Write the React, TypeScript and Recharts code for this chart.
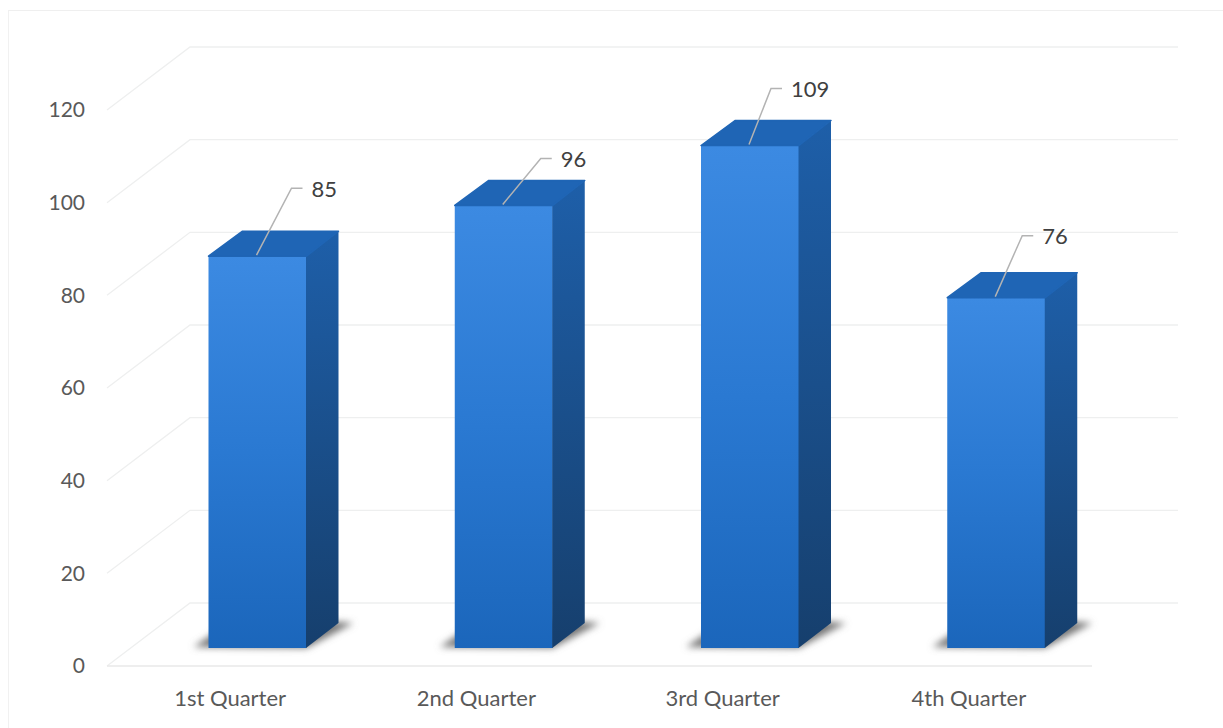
import React from "react";
import {
  Bar,
  BarChart,
  CartesianGrid,
  LabelList,
  XAxis,
  YAxis,
} from "recharts";

const quarters = ["1st Quarter", "2nd Quarter", "3rd Quarter", "4th Quarter"];
const sales = [85, 96, 109, 76];
const yTicks = [0, 20, 40, 60, 80, 100, 120];

const data = quarters.map((quarter, i) => ({ quarter, sales: sales[i] }));

// 3d look
const FONT = "Lato, 'Noto Sans', sans-serif";
const WALL_DX = 83;
const WALL_DY = -63;
const WALL_RIGHT = 1178;
const BAR_SHIFT_X = 27.5;
const BAR_SHIFT_Y = -18; // bars stand further back on the floor
const BAR_SCALE = 0.995;
const DEPTH_X = 32;
const DEPTH_Y = -25;

// leader line of each data label: rise and run from the bar top
const leaders = [
  { rise: 68, run: 35 },
  { rise: 47, run: 38 },
  { rise: 57, run: 22 },
  { rise: 62, run: 27 },
];

const GridLine = (props: any) => {
  const { x1, y1, x2 } = props;
  return (
    <g key={y1}>
      <polyline
        points={`${x1},${y1} ${x1 + WALL_DX},${y1 + WALL_DY} ${WALL_RIGHT},${y1 + WALL_DY}`}
        fill="none"
        stroke="#eeefef"
        strokeWidth={1.3}
      />
      {y1 > 600 && <line x1={x1} y1={y1} x2={x2} y2={y1} stroke="#e8e8e8" strokeWidth={1.5} />}
    </g>
  );
};

const Box = (props: any) => {
  const { x, y, width, height } = props;
  const left = x + BAR_SHIFT_X;
  const right = left + width;
  const base = y + height + BAR_SHIFT_Y;
  const top = base - height * BAR_SCALE;
  return (
    <g>
      <polygon
        points={`${left - 15},${base - 1} ${right},${base} ${right + DEPTH_X + 15},${base + DEPTH_Y} ${left + DEPTH_X},${base + DEPTH_Y - 8}`}
        fill="#777"
        filter="url(#floorShadow)"
      />
      <rect x={left} y={top} width={width} height={base - top} fill="url(#frontFace)" />
      <polygon
        points={`${right - 0.5},${top} ${right + DEPTH_X},${top + DEPTH_Y} ${right + DEPTH_X},${base + DEPTH_Y} ${right - 0.5},${base}`}
        fill="url(#sideFace)"
      />
      <polygon
        points={`${left},${top} ${left + DEPTH_X + 2},${top + DEPTH_Y} ${right + DEPTH_X},${top + DEPTH_Y} ${right},${top}`}
        fill="#1f65b5"
        stroke="#1f65b5"
        strokeWidth={1.5}
        strokeLinejoin="round"
      />
    </g>
  );
};

const LeaderLabel = (props: any) => {
  const { x, y, width, height, value, index } = props;
  const { rise, run } = leaders[index];
  const top = y + height + BAR_SHIFT_Y - height * BAR_SCALE;
  const startX = x + BAR_SHIFT_X + width / 2 - 1;
  const elbowX = startX + run;
  const elbowY = top - rise;
  return (
    <g>
      <polyline
        points={`${startX},${top - 1} ${elbowX},${elbowY} ${elbowX + 11},${elbowY}`}
        fill="none"
        stroke="#b3b3b3"
        strokeWidth={1.5}
      />
      <text
        x={elbowX + 20}
        y={elbowY}
        dominantBaseline="central"
        fontFamily={FONT}
        fontSize={22}
        fill="#404040"
      >
        {value}
      </text>
    </g>
  );
};

const App = () => {
  return (
    <div style={{ position: "absolute", left: 0, top: 0, width: 1223, height: 728, background: "#fff", overflow: "hidden" }}>
      <div
        style={{
          position: "absolute",
          left: 8,
          top: 10,
          width: 1215,
          height: 718,
          borderTop: "1px solid #efefef",
          borderLeft: "1px solid #f1f1f1",
        }}
      />
      <div style={{ position: "absolute", left: 0, top: 0 }}>
        <BarChart
          width={1223}
          height={728}
          data={data}
          margin={{ top: 110, right: 131, bottom: 0, left: 0 }}
        >
          <defs>
            <linearGradient id="frontFace" x1="0" x2="0" y1="0" y2="1">
              <stop offset="0%" stopColor="#3c8ae2" />
              <stop offset="50%" stopColor="#2a79d2" />
              <stop offset="100%" stopColor="#1b66bb" />
            </linearGradient>
            <linearGradient id="sideFace" x1="0" x2="0" y1="0" y2="1">
              <stop offset="0%" stopColor="#1e5fa9" />
              <stop offset="100%" stopColor="#163f6d" />
            </linearGradient>
            <filter id="floorShadow" x="-30%" y="-60%" width="160%" height="220%">
              <feGaussianBlur stdDeviation="3.5" />
            </filter>
          </defs>
          <CartesianGrid horizontal={GridLine} vertical={false} />
          <XAxis
            dataKey="quarter"
            height={62}
            axisLine={false}
            tickLine={false}
            tickMargin={18}
            tick={{ fill: "#595959", fontFamily: FONT, fontSize: 22 }}
          />
          <YAxis
            width={107}
            domain={[0, 120]}
            ticks={yTicks}
            axisLine={false}
            tickLine={false}
            tickMargin={16}
            tick={{ fill: "#595959", fontFamily: FONT, fontSize: 21 }}
          />
          <Bar
            dataKey="sales"
            barSize={98}
            shape={Box}
            isAnimationActive={false}
          >
            <LabelList dataKey="sales" content={LeaderLabel} />
          </Bar>
        </BarChart>
      </div>
    </div>
  );
};

export default App;
